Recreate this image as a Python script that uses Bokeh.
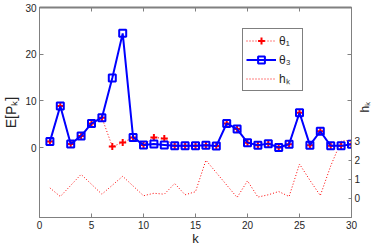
import math
from bokeh.plotting import figure
from bokeh.models import Range1d, LinearAxis, FixedTicker, Legend, LegendItem
from bokeh.embed import file_html
from bokeh.resources import INLINE

k = list(range(1, 31))
theta1 = [1.26, 8.9, 0.77, 2.45, 5.15, 6.4, 0.2, 1.05, 2.16, 0.56, 2.16, 1.95, 0.35, 0.35, 0.35,
          0.5, 0.3, 5.15, 3.96, 1.04, 0.5, 0.83, 0.0, 0.7, 7.44, 0.5, 3.48, 0.35, 0.35, 0.7]
theta3 = [1.26, 8.9, 0.77, 2.45, 5.15, 6.4, 14.9, 24.46, 2.16, 0.56, 0.77, 0.56, 0.35, 0.35, 0.35,
          0.5, 0.3, 5.15, 3.96, 1.04, 0.5, 0.83, 0.0, 0.7, 7.44, 0.5, 3.48, 0.35, 0.35, 0.7]
h = [0.55, 0.1, 0.68, 1.26, 0.74, 0.22, 0.69, 1.16, 0.65, 0.14, 0.27, 0.22, 0.78, 0.19, 0.35,
     2.0, 1.35, 0.7, 0.05, 0.92, 0.07, 0.19, 0.36, 0.1, 1.8, 0.95, 0.15, 1.7, 3.0, 3.05]
x_ticks = [0, 5, 10, 15, 20, 25, 30]
left_ticks = [0, 10, 20, 30]
right_ticks = [0, 1, 2, 3]
left_lim = (-15, 30)
right_lim = (-1, 10)

FONT = "Liberation Sans"
GRAY = "#808080"
TXT = "#262626"

p = figure(width=382, height=248, output_backend="svg", toolbar_location=None,
           x_range=Range1d(0, 30), y_range=Range1d(*left_lim),
           min_border_left=36, min_border_right=27, min_border_top=7, min_border_bottom=26)
p.extra_y_ranges = {"h": Range1d(*right_lim)}
p.grid.visible = False
p.outline_line_color = GRAY
p.background_fill_color = "white"

def style_axis(ax):
    ax.axis_line_color = GRAY
    ax.major_tick_line_color = GRAY
    ax.major_tick_in = 4
    ax.major_tick_out = 0
    ax.minor_tick_line_color = GRAY
    ax.minor_tick_in = 4
    ax.minor_tick_out = 0
    ax.major_label_text_font = FONT
    ax.major_label_text_font_size = "10px"
    ax.major_label_text_color = TXT
    ax.axis_label_text_font = FONT
    ax.axis_label_text_font_style = "normal"
    ax.axis_label_text_color = TXT

style_axis(p.xaxis[0])
p.xaxis[0].ticker = FixedTicker(ticks=x_ticks, minor_ticks=[])
p.xaxis[0].axis_label = "k"
p.xaxis[0].axis_label_text_font_size = "13px"
p.xaxis[0].major_label_standoff = 3
p.xaxis[0].axis_label_standoff = -1

style_axis(p.yaxis[0])
p.yaxis[0].ticker = FixedTicker(ticks=left_ticks, minor_ticks=[])
p.yaxis[0].axis_label = "E[Pₖ]"
p.yaxis[0].axis_label_text_font_size = "14px"
p.yaxis[0].major_label_standoff = 3
p.yaxis[0].axis_label_standoff = 3

# top mirror axis: unlabelled tick marks only
tax = LinearAxis(ticker=FixedTicker(ticks=[], minor_ticks=x_ticks))
style_axis(tax)
tax.axis_line_width = 2
p.add_layout(tax, "above")

# right axis for h_k, with the left-axis ticks mirrored as unlabelled minor ticks
def to_right(v):
    return right_lim[0] + (right_lim[1] - right_lim[0]) * (v - left_lim[0]) / (left_lim[1] - left_lim[0])

mirror = [to_right(v) for v in left_ticks[1:3]]
rax = LinearAxis(y_range_name="h", ticker=FixedTicker(ticks=right_ticks, minor_ticks=mirror),
                 axis_label="hₖ")
style_axis(rax)
rax.major_tick_in = 3
rax.major_label_standoff = 3
rax.axis_label_standoff = 2
rax.axis_label_text_font_size = "12px"
rax.axis_label_orientation = math.pi / 2
p.add_layout(rax, "right")

# series
r_h = p.line(k, h, y_range_name="h", line_color="#ff0000", line_dash="1 2", line_width=1)
r_t1l = p.line(k, theta1, line_color="#ff0000", line_dash="1 2", line_width=1)
r_t1m = p.scatter(k, theta1, marker="cross", size=7, line_color="#ff0000", line_width=2)
r_t3l = p.line(k, theta3, line_color="#0000ff", line_width=2)
r_t3m = p.scatter(k, theta3, marker="square", size=7, line_color="#0000ff", line_width=2,
                  fill_alpha=0)

legend = Legend(items=[
    LegendItem(label="θ₁", renderers=[r_t1l, r_t1m]),
    LegendItem(label="θ₃", renderers=[r_t3l, r_t3m]),
    LegendItem(label="hₖ", renderers=[r_h]),
], location=(203, 126))
legend.border_line_color = "black"
legend.border_line_width = 1
legend.background_fill_color = "white"
legend.label_text_font = FONT
legend.label_text_font_size = "12px"
legend.label_text_color = TXT
legend.glyph_width = 30
legend.glyph_height = 17
legend.label_height = 17
legend.spacing = 2
legend.padding = 3
legend.margin = 0
legend.label_standoff = 3
p.add_layout(legend, "center")

open("out.html", "w").write(file_html(p, INLINE))
